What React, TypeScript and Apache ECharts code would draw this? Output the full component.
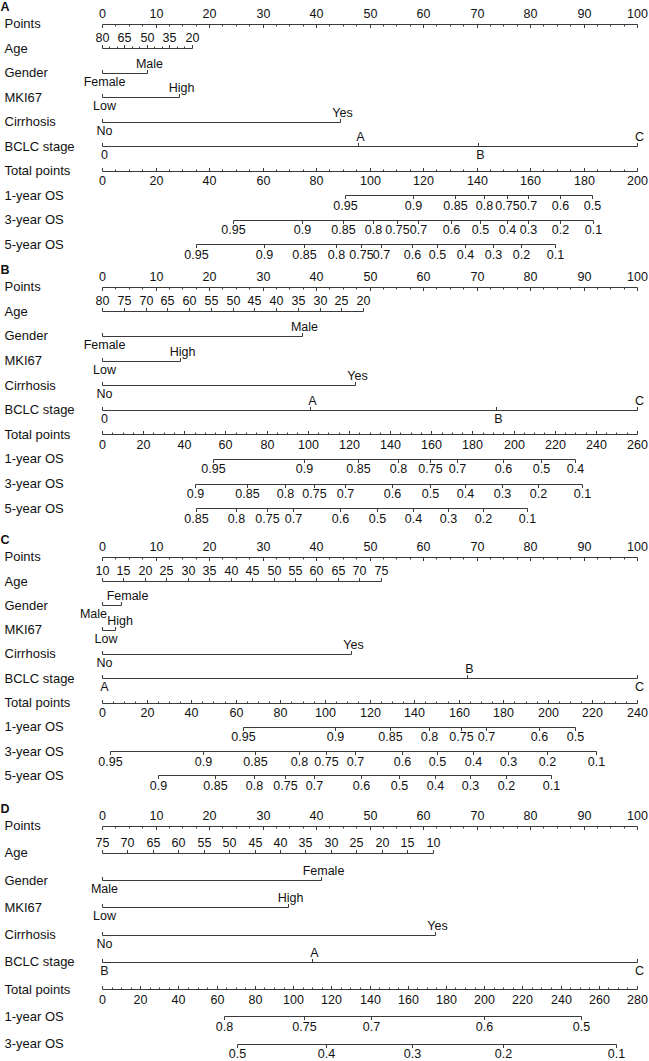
import React, { useEffect, useRef } from "react";
import * as echarts from "echarts";

const FONT = '"Liberation Sans", Arial, Helvetica, sans-serif';

// ---------- shared ----------
const POINTS_LABELS = [0, 10, 20, 30, 40, 50, 60, 70, 80, 90, 100];

// ---------- Panel A ----------
const A_AGE_TICKS = [80, 75, 70, 65, 60, 55, 50, 45, 40, 35, 30, 25, 20];
const A_AGE_LABELS = [80, 65, 50, 35, 20];
const A_AGE_ANCHORS = [[80, 0], [20, 16.8]]; // [age, points]
const A_GENDER: [string, number][] = [["Female", 0], ["Male", 8.5]];
const A_MKI67: [string, number][] = [["Low", 0], ["High", 14.3]];
const A_CIRRHOSIS: [string, number][] = [["No", 0], ["Yes", 44.5]];
const A_BCLC: [string, number][] = [["0", 0], ["A", 47.9], ["B", 70.2], ["C", 100]];
const A_TOTAL_MAX = 200;
const A_TOTAL_LABELS = [0, 20, 40, 60, 80, 100, 120, 140, 160, 180, 200];
const A_OS1: [string, number][] = [["0.95", 90.8], ["0.9", 116.4], ["0.85", 132.0], ["0.8", 142.9], ["0.75", 151.3], ["0.7", 159.4], ["0.6", 171.2], ["0.5", 183.1]];
const A_OS3: [string, number][] = [["0.95", 49.1], ["0.9", 74.7], ["0.85", 90.1], ["0.8", 101.3], ["0.75", 110.3], ["0.7", 118.1], ["0.6", 130.5], ["0.5", 141.3], ["0.4", 151.3], ["0.3", 159.1], ["0.2", 171.2], ["0.1", 183.6]];
const A_OS5: [string, number][] = [["0.95", 35.1], ["0.9", 60.4], ["0.85", 75.5], ["0.8", 87.5], ["0.75", 96.8], ["0.7", 104.3], ["0.6", 115.9], ["0.5", 125.2], ["0.4", 135.7], ["0.3", 146.2], ["0.2", 156.6], ["0.1", 169.3]];

// ---------- Panel B ----------
const B_AGE_TICKS = [80, 75, 70, 65, 60, 55, 50, 45, 40, 35, 30, 25, 20];
const B_AGE_LABELS = [80, 75, 70, 65, 60, 55, 50, 45, 40, 35, 30, 25, 20];
const B_AGE_ANCHORS = [[80, 0], [20, 48.8]];
const B_GENDER: [string, number][] = [["Female", 0], ["Male", 37.3]];
const B_MKI67: [string, number][] = [["Low", 0], ["High", 14.6]];
const B_CIRRHOSIS: [string, number][] = [["No", 0], ["Yes", 47.3]];
const B_BCLC: [string, number][] = [["0", 0], ["A", 38.9], ["B", 73.6], ["C", 100]];
const B_TOTAL_MAX = 260;
const B_TOTAL_LABELS = [0, 20, 40, 60, 80, 100, 120, 140, 160, 180, 200, 220, 240, 260];
const B_OS1: [string, number][] = [["0.95", 54.1], ["0.9", 98.2], ["0.85", 124.6], ["0.8", 144.0], ["0.75", 159.4], ["0.7", 172.4], ["0.6", 194.7], ["0.5", 213.2], ["0.4", 229.9]];
const B_OS3: [string, number][] = [["0.9", 45.2], ["0.85", 70.3], ["0.8", 88.9], ["0.75", 103.0], ["0.7", 118.1], ["0.6", 140.9], ["0.5", 159.4], ["0.4", 176.4], ["0.3", 194.3], ["0.2", 212.1], ["0.1", 233.2]];
const B_OS5: [string, number][] = [["0.85", 45.6], ["0.8", 65.1], ["0.75", 80.0], ["0.7", 93.0], ["0.6", 115.7], ["0.5", 133.8], ["0.4", 151.0], ["0.3", 168.3], ["0.2", 185.3], ["0.1", 206.7]];

// ---------- Panel C ----------
const C_AGE_TICKS = [10, 15, 20, 25, 30, 35, 40, 45, 50, 55, 60, 65, 70, 75];
const C_AGE_LABELS = [10, 15, 20, 25, 30, 35, 40, 45, 50, 55, 60, 65, 70, 75];
const C_AGE_ANCHORS = [[10, 0], [75, 52.1]];
const C_GENDER: [string, number][] = [["Male", 0], ["Female", 3.5]];
const C_MKI67: [string, number][] = [["Low", 0], ["High", 2.4]];
const C_CIRRHOSIS: [string, number][] = [["No", 0], ["Yes", 46.6]];
const C_BCLC: [string, number][] = [["A", 0], ["B", 68.3], ["C", 100]];
const C_TOTAL_MAX = 240;
const C_TOTAL_LABELS = [0, 20, 40, 60, 80, 100, 120, 140, 160, 180, 200, 220, 240];
const C_OS1: [string, number][] = [["0.95", 63.2], ["0.9", 104.7], ["0.85", 129.2], ["0.8", 146.9], ["0.75", 160.9], ["0.7", 172.4], ["0.6", 196.2], ["0.5", 212.4]];
const C_OS3: [string, number][] = [["0.95", 3.7], ["0.9", 45.5], ["0.85", 68.7], ["0.8", 88.2], ["0.75", 100.3], ["0.7", 113.3], ["0.6", 134.7], ["0.5", 150.5], ["0.4", 166.3], ["0.3", 182.0], ["0.2", 199.7], ["0.1", 221.4]];
const C_OS5: [string, number][] = [["0.9", 25.1], ["0.85", 50.7], ["0.8", 68.2], ["0.75", 82.3], ["0.7", 95.1], ["0.6", 116.1], ["0.5", 133.2], ["0.4", 149.2], ["0.3", 165.0], ["0.2", 181.1], ["0.1", 201.6]];

// ---------- Panel D ----------
const D_AGE_TICKS = [75, 70, 65, 60, 55, 50, 45, 40, 35, 30, 25, 20, 15, 10];
const D_AGE_LABELS = [75, 70, 65, 60, 55, 50, 45, 40, 35, 30, 25, 20, 15, 10];
const D_AGE_ANCHORS = [[75, 0], [10, 61.8]];
const D_GENDER: [string, number][] = [["Male", 0], ["Female", 41.0]];
const D_MKI67: [string, number][] = [["Low", 0], ["High", 34.7]];
const D_CIRRHOSIS: [string, number][] = [["No", 0], ["Yes", 62.2]];
const D_BCLC: [string, number][] = [["B", 0], ["A", 39.2], ["C", 100]];
const D_TOTAL_MAX = 280;
const D_TOTAL_LABELS = [0, 20, 40, 60, 80, 100, 120, 140, 160, 180, 200, 220, 240, 260, 280];
const D_OS1: [string, number][] = [["0.8", 63.8], ["0.75", 105.9], ["0.7", 141.0], ["0.6", 200.0], ["0.5", 250.8]];
const D_OS3: [string, number][] = [["0.5", 70.7], ["0.4", 117.2], ["0.3", 162.2], ["0.2", 209.7], ["0.1", 269.2]];

// ---------- layout / style constants ----------
const POINTS_MINOR_STEP = 2.5;
const TOTAL_MINOR_STEP = 5;
const TEXT = "#111";
const LINE = "#3a3a3a";
const NAME_SIZE = 13;
const TICK_SIZE = 12.5;
const DISC_NUDGE = 2;
const LABEL_NUDGE: Record<string, number> = {
  "C/Gender/Male": -9,
  "C/Gender/Female": 6,
  "C/MKI67/Low": 3.5,
  "C/MKI67/High": 4.5,
};

type Row =
  | { kind: "points"; name: string; labels: number[] }
  | { kind: "cont"; name: string; ticks: number[]; labels: number[]; anchors: number[][] }
  | { kind: "disc"; name: string; levels: [string, number][] }
  | { kind: "total"; name: string; max: number; labels: number[] }
  | { kind: "os"; name: string; max: number; ticks: [string, number][] };

function panelRows(age: [number[], number[], number[][]], gender: [string, number][], mki: [string, number][], cir: [string, number][], bclc: [string, number][], tmax: number, tlabels: number[], os: [string, [string, number][]][]): Row[] {
  const rows: Row[] = [
    { kind: "points", name: "Points", labels: POINTS_LABELS },
    { kind: "cont", name: "Age", ticks: age[0], labels: age[1], anchors: age[2] },
    { kind: "disc", name: "Gender", levels: gender },
    { kind: "disc", name: "MKI67", levels: mki },
    { kind: "disc", name: "Cirrhosis", levels: cir },
    { kind: "disc", name: "BCLC stage", levels: bclc },
    { kind: "total", name: "Total points", max: tmax, labels: tlabels },
  ];
  os.forEach(([n, t]) => rows.push({ kind: "os", name: n, max: tmax, ticks: t }));
  return rows;
}

const PANELS = [
  {
    letter: "A", top: 23.5, step: 24.5,
    rows: panelRows([A_AGE_TICKS, A_AGE_LABELS, A_AGE_ANCHORS], A_GENDER, A_MKI67, A_CIRRHOSIS, A_BCLC, A_TOTAL_MAX, A_TOTAL_LABELS,
      [["1-year OS", A_OS1], ["3-year OS", A_OS3], ["5-year OS", A_OS5]]),
  },
  {
    letter: "B", top: 286.7, step: 24.6,
    rows: panelRows([B_AGE_TICKS, B_AGE_LABELS, B_AGE_ANCHORS], B_GENDER, B_MKI67, B_CIRRHOSIS, B_BCLC, B_TOTAL_MAX, B_TOTAL_LABELS,
      [["1-year OS", B_OS1], ["3-year OS", B_OS3], ["5-year OS", B_OS5]]),
  },
  {
    letter: "C", top: 556.7, step: 24.3,
    rows: panelRows([C_AGE_TICKS, C_AGE_LABELS, C_AGE_ANCHORS], C_GENDER, C_MKI67, C_CIRRHOSIS, C_BCLC, C_TOTAL_MAX, C_TOTAL_LABELS,
      [["1-year OS", C_OS1], ["3-year OS", C_OS3], ["5-year OS", C_OS5]]),
  },
  {
    letter: "D", top: 825.5, step: 27.25,
    rows: panelRows([D_AGE_TICKS, D_AGE_LABELS, D_AGE_ANCHORS], D_GENDER, D_MKI67, D_CIRRHOSIS, D_BCLC, D_TOTAL_MAX, D_TOTAL_LABELS,
      [["1-year OS", D_OS1], ["3-year OS", D_OS3]]),
  },
];

const MAJOR = 3.5;
const MINOR = 2;
const ABOVE = -10;
const BELOW = 10.5;
const DABOVE = -9;
const DBELOW = 9;
const LETTER_OFFSET = -16.5;

function txt(x: number, y: number, text: string, size: number, align = "center", bold = false) {
  return {
    type: "text",
    silent: true,
    style: {
      x, y, text, fill: TEXT, fontSize: size, fontFamily: FONT,
      fontWeight: bold ? "bold" : "normal",
      align, verticalAlign: "middle",
    },
  };
}
function seg(x1: number, y1: number, x2: number, y2: number) {
  return {
    type: "line",
    silent: true,
    shape: { x1, y1, x2, y2 },
    style: { stroke: LINE, lineWidth: 1 },
  };
}

function makeRender(panel: any) {
  return (params: any, api: any) => {
    const ri = api.value(1);
    const row: Row = panel.rows[ri];
    const yRaw = api.coord([0, ri])[1];
    const y = Math.round(yRaw) + 0.5;
    const X = (p: number) => Math.round(api.coord([p, ri])[0]) + 0.5;
    const ch: any[] = [];
    ch.push(txt(4.5, yRaw, row.name, NAME_SIZE, "left"));
    if (ri === 0) ch.push(txt(0.5, yRaw + LETTER_OFFSET, panel.letter, 12.5, "left", true));

    if (row.kind === "points") {
      ch.push(seg(X(0), y, X(100), y));
      for (let v = 0; v <= 100 + 1e-9; v += POINTS_MINOR_STEP) {
        const major = row.labels.includes(v);
        ch.push(seg(X(v), y, X(v), y + (major ? MAJOR : MINOR)));
      }
      row.labels.forEach((v) => ch.push(txt(X(v), yRaw + ABOVE, String(v), TICK_SIZE)));
    } else if (row.kind === "cont") {
      const [[a0, p0], [a1, p1]] = row.anchors;
      const P = (a: number) => p0 + ((a - a0) * (p1 - p0)) / (a1 - a0);
      ch.push(seg(X(P(a0)), y, X(P(a1)), y));
      row.ticks.forEach((a) => {
        const major = row.labels.includes(a);
        ch.push(seg(X(P(a)), y, X(P(a)), y - (major ? MAJOR : MINOR)));
      });
      row.labels.forEach((a) => ch.push(txt(X(P(a)), yRaw + ABOVE, String(a), TICK_SIZE)));
    } else if (row.kind === "disc") {
      const lv = [...row.levels].sort((a, b) => a[1] - b[1]);
      ch.push(seg(X(lv[0][1]), y, X(lv[lv.length - 1][1]), y));
      lv.forEach(([name, p], k) => {
        ch.push(seg(X(p), y, X(p), y - MAJOR));
        const key = panel.letter + "/" + row.name + "/" + name;
        const nudge = key in LABEL_NUDGE ? LABEL_NUDGE[key] : DISC_NUDGE;
        const above = k % 2 === 1;
        ch.push(txt(X(p) + nudge, yRaw + (above ? DABOVE : DBELOW), name, TICK_SIZE));
      });
    } else if (row.kind === "total") {
      const P = (t: number) => (t * 100) / row.max;
      ch.push(seg(X(0), y, X(100), y));
      for (let v = 0; v <= row.max + 1e-9; v += TOTAL_MINOR_STEP) {
        const major = row.labels.includes(v);
        ch.push(seg(X(P(v)), y, X(P(v)), y - (major ? MAJOR : MINOR)));
      }
      row.labels.forEach((v) => ch.push(txt(X(P(v)), yRaw + BELOW, String(v), TICK_SIZE)));
    } else if (row.kind === "os") {
      const P = (t: number) => (t * 100) / row.max;
      const ts = row.ticks;
      ch.push(seg(X(P(ts[0][1])), y, X(P(ts[ts.length - 1][1])), y));
      ts.forEach(([lab, t]) => {
        ch.push(seg(X(P(t)), y, X(P(t)), y + MAJOR));
        ch.push(txt(X(P(t)), yRaw + BELOW, lab, TICK_SIZE));
      });
    }
    return { type: "group", children: ch };
  };
}

export default function App() {
  const ref = useRef<HTMLDivElement>(null);
  useEffect(() => {
    if (!ref.current) return;
    const chart = echarts.init(ref.current, null, { renderer: "svg" });
    const option: any = {
      animation: false,
      backgroundColor: "#ffffff",
      grid: PANELS.map((p) => ({ left: 102, width: 535, top: p.top, height: p.step * (p.rows.length - 1) })),
      xAxis: PANELS.map((p, i) => ({ type: "value", gridIndex: i, min: 0, max: 100, show: false })),
      yAxis: PANELS.map((p, i) => ({ type: "value", gridIndex: i, min: 0, max: p.rows.length - 1, inverse: true, show: false })),
      series: PANELS.map((p, i) => ({
        type: "custom",
        coordinateSystem: "cartesian2d",
        xAxisIndex: i,
        yAxisIndex: i,
        clip: false,
        silent: true,
        data: p.rows.map((r, j) => [0, j]),
        renderItem: makeRender(p),
      })),
    };
    chart.setOption(option);
    return () => chart.dispose();
  }, []);
  return (
    <div
      ref={ref}
      style={{ position: "absolute", left: 0, top: 0, width: 649, height: 1061, background: "#fff" }}
    />
  );
}
